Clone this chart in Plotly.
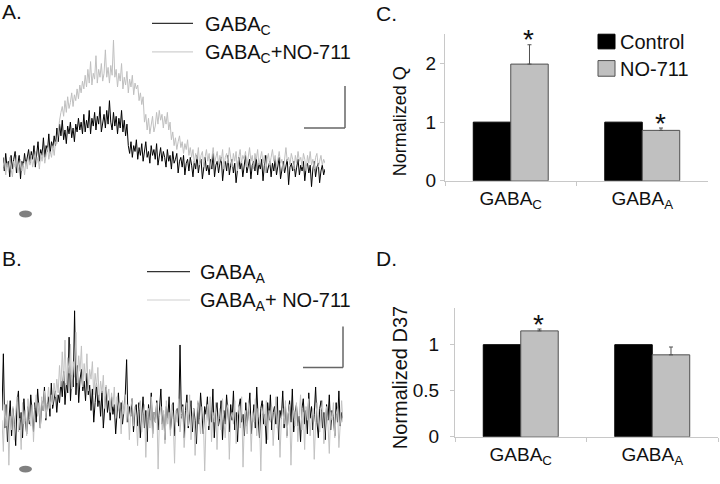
import numpy as np
import plotly.graph_objects as go

# ---- traces (arbitrary amplitude units) ----
a_gabac = [
    14, 0, 18, 4, 10, -6, 16, 2, 12, 20, -2, 8, 16, -8, 10, 4, 18, 6, 14, 22,
    8, 20, 12, 26, 4, 18, 30, 10, 22, 16, 34, 14, 26, 20, 38, 18, 30, 24, 36, 26,
    44, 30, 48, 36, 52, 32, 42, 28, 46, 38, 50, 34, 44, 30, 48, 40, 54, 42, 50, 38,
    58, 40, 52, 44, 62, 38, 54, 46, 60, 42, 56, 48, 66, 40, 52, 58, 44, 62, 48, 72,
    50, 42, 60, 46, 56, 38, 54, 44, 62, 40, 52, 36, 48, 26, 18, 30, 14, 26, 20, 32,
    12, 24, 16, 28, 10, 22, 30, 14, 20, 8, 26, 16, 22, 12, 28, 6, 18, 24, 10, 20,
    14, 4, 22, 10, 16, 2, 20, 8, 12, 18, -2, 10, 14, 4, 16, -4, 8, 12, 0, 14,
    6, -6, 10, 2, 16, -2, 8, 12, -8, 4, 14, 0, 6, -4, 12, 2, 18, -6, 6, 10,
    -2, 8, 14, -10, 4, 10, 0, 16, -4, 6, 12, -2, 8, -12, 4, 14, 2, 10, -6, 8,
    16, -2, 4, 12, -8, 6, 10, 0, 14, -4, 8, 2, 12, -10, 6, 16, -2, 4, 10, -6,
    8, 0, 12, -4, 6, 14, -8, 2, 10, -2, 6, 12, -14, 4, 8, 0, 10, -6, 4, 12,
    -4, 6, 0, 10, -10, 4, 8, -2, 6, -16, 2, 10, -6, 4, 8, -12, 0, 6, -4, 2,
]
a_gabac_no711 = [
    4, 12, -4, 8, 0, 14, 2, -6, 10, 4, 16, -2, 6, 12, 0, 8, -4, 10, 2, 14,
    6, 16, 4, 12, 20, 8, 14, 2, 18, 10, 22, 8, 16, 24, 12, 20, 14, 26, 16, 30,
    28, 42, 52, 60, 66, 56, 72, 60, 76, 64, 70, 80, 66, 78, 72, 84, 74, 88, 80, 92,
    84, 98, 86, 104, 90, 112, 88, 100, 94, 118, 90, 104, 96, 110, 92, 100, 124, 96, 106, 90,
    108, 98, 134, 96, 104, 86, 100, 92, 110, 84, 96, 88, 102, 80, 94, 86, 98, 78, 90, 84,
    88, 72, 80, 68, 76, 50, 58, 42, 54, 38, 48, 56, 40, 46, 60, 48, 62, 52, 58, 44,
    56, 48, 60, 42, 50, 32, 40, 26, 34, 22, 30, 36, 24, 30, 18, 28, 22, 32, 16, 24,
    14, 22, 8, 18, 12, 24, 6, 16, 20, 4, 14, 22, 10, 18, 2, 16, 24, 8, 14, 20,
    6, 16, 10, 22, 2, 14, 18, 8, 24, 12, 4, 18, 10, 20, 0, 14, 22, 8, 16, 12,
    20, 4, 14, 24, 10, 16, 2, 18, 12, 22, 6, 14, 20, 8, 16, -2, 12, 18, 6, 14,
    22, 10, 16, 4, 14, 20, 8, 12, 0, 16, 24, 10, 14, 6, 18, 12, 2, 16, 8, 20,
    10, 14, 4, 18, 12, 0, 16, 8, 20, 6, 12, 2, 14, 18, 4, 10, 16, 6, 12, 8,
]

b_gabaa = [
    20, 78, 2, 26, -12, 14, 30, -6, 22, 6, -16, 28, 40, 0, 18, -8, 32, 10, -4, 24,
    6, 36, 14, -2, 28, 8, 42, 16, 2, 30, 20, 44, 10, 26, 34, 14, 48, 22, 30, 40,
    18, 36, 28, 50, 34, 60, 26, 48, 38, 95, 30, 56, 44, 122, 36, 66, 28, 52, 62, 40,
    50, 30, 58, 36, 46, 20, 42, 8, 28, 48, 24, 36, 14, 40, 2, 26, 44, 18, 30, 10,
    34, 16, 26, -4, 22, 38, 12, 28, 6, 20, 36, 72, 8, 24, 14, 32, -2, 18, 26, 4,
    28, -8, 16, 34, 2, 20, -12, 26, 10, 38, -4, 18, 8, 30, 0, 22, 42, 6, 16, -10,
    24, 12, 34, 0, 18, 28, -6, 14, 22, 4, 87, 12, 26, -8, 20, 36, 2, 16, 30, -2,
    22, 10, -14, 28, 6, 38, 14, -4, 24, 16, 34, 0, 20, 8, 42, -8, 18, 28, 4, 12,
    30, -10, 20, 6, 36, 14, -2, 26, 10, 40, 0, 18, -12, 24, 32, 8, 16, -6, 28, 4,
    20, 38, -4, 12, 26, 2, 44, 14, -8, 22, 30, 6, 16, -14, 28, 10, 36, 0, 18, 24,
    6, 34, -10, 20, 12, 40, 2, 24, -6, 16, 30, 8, 42, -2, 18, 26, 4, 14, -12, 22,
    32, 6, 20, -4, 38, 12, 24, 0, 16, 44, 8, -8, 22, 30, 2, 18, -10, 26, 10, 36,
    0, 20, 14, -6, 28, 8, 40, 4, 18, 12,
]
b_gabaa_no711 = [
    10, -22, 26, 4, 30, -36, 14, 0, 24, -10, 18, 34, -2, 12, -20, 28, 6, 20, -6, 32,
    12, 4, 26, -12, 22, 36, 14, 28, 2, 34, 20, 40, 12, 30, 44, 22, 36, 26, 48, 34,
    52, 38, 66, 44, 80, 50, 92, 46, 74, 58, 88, 42, 70, 54, 100, 48, 76, 60, 86, 44,
    68, 50, 78, 40, 62, 52, 70, 36, 58, 44, 64, 30, 50, 38, 56, 22, 46, 32, 42, 18,
    38, 24, 44, 12, 34, 20, 28, -4, 30, 16, 36, 8, 26, -10, 22, 32, 4, 24, 14, -16,
    20, 30, -2, 16, 26, -28, 12, 22, 2, 34, -8, 18, 8, 28, -40, 14, 24, 0, 20, -14,
    30, 6, 18, -6, 26, 12, -34, 20, 8, 32, -2, 16, 24, -18, 10, 28, 4, 36, -10, 14,
    22, -26, 8, 30, 12, -4, 24, 16, -44, 10, 26, 4, 34, -12, 18, 8, 28, -20, 14, 22,
    0, 32, 10, -8, 20, 26, -30, 12, 18, 6, 30, -14, 16, 24, 2, 34, -38, 10, 20, -4,
    28, 14, -22, 18, 8, 32, -6, 22, 12, -42, 16, 26, 4, 30, -10, 20, 8, 24, -16, 14,
    34, 2, 18, -28, 12, 22, 6, 30, -8, 16, 26, -36, 10, 20, 4, 28, -12, 14, 36, 0,
    18, -20, 24, 10, 32, -6, 14, 22, -30, 8, 28, 16, -2, 20, 30, -14, 12, 24, 6, -24,
    18, 10, 28, -8, 16, 22, -18, 12, 30, 8,
]

# ---- bar data ----
receptors = ["GABA<sub>C</sub>", "GABA<sub>A</sub>"]
q_control = [1.0, 1.0]
q_no711 = [1.99, 0.86]
q_no711_err = [0.33, 0.04]
d37_control = [1.0, 1.0]
d37_no711 = [1.15, 0.89]
d37_no711_err = [0.02, 0.085]
q_sig = [True, True]
d37_sig = [True, False]

FONT = "Liberation Sans, Arial, sans-serif"
W, H = 720, 484
def X(px): return px / W
def Y(py): return 1 - py / H

fig = go.Figure()

def t_of(v):
    return np.linspace(0, 1, len(v))

fig.add_trace(go.Scatter(x=t_of(a_gabac), y=a_gabac, mode="lines",
                         line=dict(color="black", width=1), xaxis="x", yaxis="y"))
fig.add_trace(go.Scatter(x=t_of(a_gabac_no711), y=a_gabac_no711, mode="lines",
                         line=dict(color="#bfbfbf", width=1), xaxis="x", yaxis="y"))
fig.add_trace(go.Scatter(x=t_of(b_gabaa), y=b_gabaa, mode="lines",
                         line=dict(color="black", width=1), xaxis="x2", yaxis="y2"))
fig.add_trace(go.Scatter(x=t_of(b_gabaa_no711), y=b_gabaa_no711, mode="lines",
                         line=dict(color="#c2c2c2", width=1), xaxis="x2", yaxis="y2"))

bar_ctrl = dict(color="black", line=dict(color="black", width=1))
bar_no = dict(color="#c0c0c0", line=dict(color="#505050", width=1))
err_kw = dict(type="data", symmetric=False, color="#505050", thickness=1, width=2)

fig.add_trace(go.Bar(x=receptors, y=q_control, marker=bar_ctrl, xaxis="x3", yaxis="y3"))
fig.add_trace(go.Bar(x=receptors, y=q_no711, marker=bar_no, xaxis="x3", yaxis="y3",
                     error_y=dict(array=q_no711_err, arrayminus=[0, 0], **err_kw)))
fig.add_trace(go.Bar(x=receptors, y=d37_control, marker=bar_ctrl, xaxis="x4", yaxis="y4"))
fig.add_trace(go.Bar(x=receptors, y=d37_no711, marker=bar_no, xaxis="x4", yaxis="y4",
                     error_y=dict(array=d37_no711_err, arrayminus=[0, 0], **err_kw)))

hidden = dict(visible=False, fixedrange=True)
axcol = "#c8c8c8"
cat_ax = dict(showline=True, linecolor=axcol, linewidth=1, ticks="outside", ticklen=4,
              tickcolor=axcol, tickson="boundaries", tickfont=dict(size=19, color="#111"),
              showgrid=False, zeroline=False)
val_ax = dict(showline=True, linecolor=axcol, linewidth=1, ticks="outside", ticklen=4,
              tickcolor=axcol, tickfont=dict(size=19, color="#111"), showgrid=False,
              zeroline=False)

fig.update_layout(
    width=W, height=H, margin=dict(l=0, r=0, t=0, b=0),
    paper_bgcolor="white", plot_bgcolor="rgba(0,0,0,0)",
    font=dict(family=FONT, color="#111"), showlegend=False,
    barmode="group",
    xaxis=dict(domain=[X(3), X(325)], range=[0, 1], **hidden),
    yaxis=dict(domain=[Y(210), Y(35)], range=[-35, 140], **hidden),
    xaxis2=dict(domain=[X(2), X(343)], range=[0, 1], anchor="y2", **hidden),
    yaxis2=dict(domain=[Y(482), Y(312)], range=[-42, 128], anchor="x2", **hidden),
    xaxis3=dict(domain=[X(445), X(708)], anchor="y3", **cat_ax),
    yaxis3=dict(domain=[Y(185), Y(35)], range=[0, 2.5], anchor="x3", tickvals=[0, 1, 2],
                ticklabelstandoff=0, **val_ax),
    xaxis4=dict(domain=[X(455), X(718)], anchor="y4", **cat_ax),
    yaxis4=dict(domain=[Y(447), Y(315)], range=[0, 1.4], anchor="x4", tickvals=[0, 0.5, 1],
                ticklabelstandoff=7, **val_ax),
    bargap=0.43,
)

shapes = []
def seg(x0, y0, x1, y1, color, w=1.2):
    shapes.append(dict(type="line", xref="paper", yref="paper", x0=X(x0), y0=Y(y0),
                       x1=X(x1), y1=Y(y1), line=dict(color=color, width=w)))

# legends for A and B
seg(152, 24, 193, 24, "#333")
seg(152, 53, 193, 53, "#d0d0d0")
seg(147, 278, 190, 278, "#333")
seg(147, 307, 190, 307, "#d0d0d0")
# scale bars
seg(345, 88, 345, 131, "#666", 1.5)
seg(304, 131, 345, 131, "#666", 1.5)
seg(343, 334, 343, 376, "#666", 1.5)
seg(303, 376, 343, 376, "#666", 1.5)
# stimulus markers
for yy in (219, 480):
    shapes.append(dict(type="circle", xref="paper", yref="paper", x0=X(19), x1=X(32),
                       y0=Y(yy + 3.5), y1=Y(yy - 3.5), fillcolor="#808080",
                       line=dict(width=0)))
# legend squares for C
shapes.append(dict(type="rect", xref="paper", yref="paper", x0=X(598), x1=X(615),
                   y0=Y(50), y1=Y(35), fillcolor="black", line=dict(color="black", width=1)))
shapes.append(dict(type="rect", xref="paper", yref="paper", x0=X(598), x1=X(615),
                   y0=Y(78), y1=Y(62), fillcolor="#c0c0c0", line=dict(color="#505050", width=1)))
fig.update_layout(shapes=shapes)

ann = []
def txt(x, y, s, size=20, xanchor="left", **kw):
    ann.append(dict(x=X(x), y=Y(y), xref="paper", yref="paper", text=s, showarrow=False,
                    xanchor=xanchor, yanchor="middle", font=dict(size=size, color="#111"), **kw))

txt(0, 12, "A.", 21)
txt(0, 264, "B.", 21)
txt(374, 14, "C.", 21)
txt(374, 264, "D.", 21)
txt(203, 26, "GABA<sub>C</sub>")
txt(203, 55, "GABA<sub>C</sub>+NO-711")
txt(198, 280, "GABA<sub>A</sub>")
txt(198, 309, "GABA<sub>A</sub>+ NO-711")
txt(618, 43, "Control")
txt(618, 71, "NO-711")
txt(400, 124, "Normalized Q", 18, xanchor="center", textangle=-90)
txt(400, 387, "Normalized D37", 20, xanchor="center", textangle=-90)

for xa, ya, vals, errs, sig in (("x3", "y3", q_no711, q_no711_err, q_sig),
                               ("x4", "y4", d37_no711, d37_no711_err, d37_sig)):
    for r, v, e, s in zip(receptors, vals, errs, sig):
        if s:
            ann.append(dict(x=r, y=v + e, xref=xa, yref=ya, text="*", showarrow=False,
                            xanchor="center", yanchor="middle", xshift=18, yshift=5,
                            font=dict(size=28, color="#111")))
fig.update_layout(annotations=ann)

fig.write_html("out.html", config={"displayModeBar": False},
               post_script="document.body.style.margin='0px';")
